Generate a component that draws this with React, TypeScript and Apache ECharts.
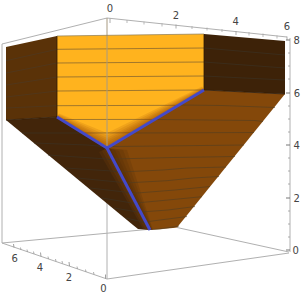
import React, { useEffect, useRef } from "react";
import * as echarts from "echarts";

type P = number[];

const orangeWall: P[] = [[57, 36], [204, 34], [204, 90], [107, 148], [57, 117]];
const leftWall: P[] = [[6, 47], [57, 36], [57, 117], [6, 120]];
const rightWall: P[] = [[204, 34], [285, 41], [285, 94], [204, 90]];
const rightFace: P[] = [[204, 90], [285, 94], [177, 227.5], [173, 228], [150, 230], [107, 148]];
const leftFace: P[] = [[6, 120], [57, 117], [107, 148], [150, 230], [138, 229], [133, 225]];

const orangeShade: P[][] = [
  [[57, 117], [59, 113.5], [107, 133], [202, 86.5], [204, 90], [107, 148]],
  [[57, 117], [58.6, 114.2], [107, 135.5], [202.4, 87.2], [204, 90], [107, 148]],
  [[57, 117], [58.2, 115], [107, 138], [202.8, 87.9], [204, 90], [107, 148]],
  [[57, 117], [57.8, 115.6], [107, 140], [203.2, 88.6], [204, 90], [107, 148]],
  [[57, 117], [57.5, 116.2], [107, 142], [203.5, 89.1], [204, 90], [107, 148]],
  [[57, 117], [57.3, 116.6], [107, 144], [203.8, 89.6], [204, 90], [107, 148]],
];
const rightShade: P[][] = [
  [[107, 148], [127, 150], [153, 230], [150, 230]],
  [[107, 148], [123, 150], [152.5, 230], [150, 230]],
  [[107, 148], [119, 151], [152, 230], [150, 230]],
  [[107, 148], [115, 150], [151.5, 230], [150, 230]],
  [[107, 148], [111, 149], [151, 230], [150, 230]],
];
const leftGlow: P[][] = [
  [[107, 148], [150, 230], [143, 229], [99, 152]],
  [[107, 148], [150, 230], [145, 229.3], [102, 151]],
  [[107, 148], [150, 230], [147.5, 229.6], [104.5, 150]],
];

const orangeContours: P[][] = [
  [[57, 49.3], [204, 48]], [[57, 63], [204, 62]], [[57, 77], [204, 76]], [[57, 91], [204, 90]],
  [[57, 105.7], [179, 105.3]], [[61, 119.5], [155, 119.4]], [[83, 133], [132, 132.8]],
];
const leftWallContours: P[][] = [
  [[6, 60.7], [57, 49.3]], [[6, 73], [57, 63]], [[6, 85], [57, 77]], [[6, 97], [57, 91]], [[6, 108], [57, 105.7]],
];
const rightWallContours: P[][] = [
  [[204, 48], [285, 55]], [[204, 62], [285, 68]], [[204, 76], [285, 80]],
];
const rightFaceContours: P[][] = [
  [[180, 105], [222, 105.5], [275, 107.5]],
  [[156, 119.5], [255, 120.5], [263, 121.5]],
  [[132, 133], [254, 132.5]],
  [[112, 146.5], [160, 146], [244, 145]],
  [[113, 159], [173, 157.5], [235, 156.5]],
  [[120, 172], [163, 170], [187, 168], [226, 167]],
  [[125, 183], [167, 180.7], [193, 178], [219, 176.5]],
  [[131, 193.5], [175, 190], [210, 186.5]],
  [[136, 203], [168, 200], [202, 196.7]],
  [[141, 212], [168, 210], [195, 206.5]],
  [[145, 222], [160, 220], [187, 216.5]],
  [[149, 229.5], [160, 229], [179, 226]],
];
const leftFaceContours: P[][] = [
  [[22, 133], [83, 133]],
  [[34, 143], [87, 145], [104, 146.5]],
  [[48, 155], [107, 159], [113, 160]],
  [[65, 168], [112, 171], [119, 172]],
  [[77, 178], [118, 182], [124, 183]],
  [[90, 188], [125, 192], [130, 193]],
  [[102, 198], [132, 203], [136, 203.5]],
  [[114, 208], [138, 212], [141, 212.5]],
  [[126, 218], [143, 222], [146, 222.5]],
];
const blueLines: P[][] = [
  [[57, 117], [107, 148], [204, 90]],
  [[107, 148], [150, 230]],
];
const edgeLines: P[][] = [
  [[57, 36], [57, 117]], [[204, 34], [204, 90]], [[6, 120], [57, 117]], [[204, 90], [285, 94]],
];
const topEdge: P[][] = [[[57, 36], [204, 34]]];

const frameLines: P[][] = [
  [[2, 44], [107, 18]],
  [[107, 18], [287, 37]],
  [[2, 44], [2, 243]],
  [[290, 38], [290, 252]],
  [[2, 243], [107, 279]],
  [[107, 279], [289, 253]],
  [[2, 243], [148, 229.4]],
  [[177, 227.5], [289, 252]],
  [[107, 202], [107, 279]],
];
const frontVertical: P[][] = [[[107, 18], [107, 147]]];

const topMajorTicks: P[][] = [
  [[110, 18.5], [110, 23]], [[176, 24.5], [176, 28.5]], [[236, 31], [236, 35]], [[287, 36.5], [287, 40]],
];
const topMinorTicks: P[][] = [
  [[127, 20], [127, 23]], [[144, 21.7], [144, 24.5]], [[162, 23.3], [162, 26.5]],
  [[192, 26], [192, 29]], [[207, 27.5], [207, 30.5]], [[222, 29], [222, 32]],
  [[249, 32], [249, 35.5]], [[263, 33.5], [263, 37]], [[277, 35.5], [277, 38.5]],
];
const zMajorTicks: P[][] = [
  [[286, 40], [290, 40]], [[286, 93], [290, 93]], [[286, 145], [290, 145]], [[286, 198], [290, 198]], [[286, 250], [290, 250]],
];
const zMinorTicks: P[][] = [
  [[288, 53], [290, 53]], [[288, 66], [290, 66]], [[288, 79], [290, 79]],
  [[288, 106], [290, 106]], [[288, 119], [290, 119]], [[288, 132], [290, 132]],
  [[288, 158], [290, 158]], [[288, 171], [290, 171]], [[288, 184], [290, 184]],
  [[288, 211], [290, 211]], [[288, 224], [290, 224]], [[288, 237], [290, 237]],
];
const leftMajorTicks: P[][] = [
  [[14, 247.5], [13.5, 244]], [[41, 256.5], [40.5, 252.5]], [[69.5, 266], [69, 262]], [[105.5, 278.5], [105.5, 274.5]],
];
const leftMinorTicks: P[][] = [
  [[21, 250], [20.5, 247.5]], [[27.5, 252], [27, 249.5]], [[34, 254], [33.5, 251.5]],
  [[48.5, 259], [48, 256.5]], [[56, 261.5], [55.5, 259]], [[62.5, 263.5], [62, 261]],
  [[77.5, 269], [77, 266.5]], [[86, 272], [85.5, 269.5]], [[94, 274.5], [93.5, 272]],
];

const tickLabels: { t: string; p: P }[] = [
  { t: "0", p: [110, 8.5] }, { t: "2", p: [176, 15] }, { t: "4", p: [235.7, 21.5] }, { t: "6", p: [287, 26] },
  { t: "8", p: [296.7, 40] }, { t: "6", p: [297, 93] }, { t: "4", p: [296.7, 145] }, { t: "2", p: [296.7, 198] }, { t: "0", p: [295.7, 250] },
  { t: "6", p: [14.7, 258.7] }, { t: "4", p: [40, 267] }, { t: "2", p: [69, 277] }, { t: "0", p: [103.5, 288] },
];

const custom = (make: (api: any) => any) => ({
  type: "custom",
  coordinateSystem: "cartesian2d",
  clip: false,
  silent: true,
  data: [[0, 0]],
  renderItem: (_: any, api: any) => make(api),
});

const poly = (pts: P[], fill: string, opacity = 1) =>
  custom((api) => ({
    type: "polygon",
    shape: { points: pts.map((p) => api.coord(p)) },
    style: { fill, opacity, stroke: null },
  }));

const lines = (ls: P[][], stroke: string, lineWidth = 1, opacity = 1) =>
  custom((api) => ({
    type: "group",
    children: ls.map((l) => ({
      type: "polyline",
      shape: { points: l.map((p) => api.coord(p)) },
      style: { stroke, lineWidth, opacity, fill: null },
    })),
  }));

const labels = () =>
  custom((api) => ({
    type: "group",
    children: tickLabels.map((l) => {
      const c = api.coord(l.p);
      return {
        type: "text",
        x: c[0],
        y: c[1],
        style: {
          text: l.t,
          fill: "#444",
          font: '10px "DejaVu Sans"',
          align: "center",
          verticalAlign: "middle",
        },
      };
    }),
  }));

export default function App() {
  const ref = useRef<HTMLDivElement>(null);
  useEffect(() => {
    const chart = echarts.init(ref.current!, undefined, { renderer: "svg" });
    chart.setOption({
      animation: false,
      backgroundColor: "#fff",
      grid: { left: 0, right: 0, top: 0, bottom: 0 },
      xAxis: { type: "value", min: 0, max: 301, show: false },
      yAxis: { type: "value", min: 0, max: 297, inverse: true, show: false },
      series: [
        lines(frameLines, "#b0b0b0", 1),
        lines(topMajorTicks, "#999999", 0.8),
        lines(topMinorTicks, "#aaaaaa", 0.8),
        lines(zMajorTicks, "#777777", 1),
        lines(zMinorTicks, "#999999", 0.8),
        lines(leftMajorTicks, "#888888", 0.8),
        lines(leftMinorTicks, "#999999", 0.8),
        poly(orangeWall, "#ffb31e"),
        lines(orangeContours, "#7d6030", 0.8, 0.9),
        ...orangeShade.map((s) => poly(s, "#8a3f00", 0.13)),
        lines(frontVertical, "#a89a80", 1),
        poly(rightFace, "#84480a"),
        ...rightShade.map((s) => poly(s, "#3a2005", 0.15)),
        lines(rightFaceContours, "#4f3c22", 0.7, 0.85),
        poly(leftFace, "#42250a"),
        ...leftGlow.map((s) => poly(s, "#84480a", 0.18)),
        lines(leftFaceContours, "#3a3226", 0.7, 0.85),
        poly(leftWall, "#5a3208"),
        lines(leftWallContours, "#4a3a26", 0.7, 0.85),
        poly(rightWall, "#3d2208"),
        lines(rightWallContours, "#3a3226", 0.7, 0.85),
        lines(edgeLines, "#2e1a06", 0.8),
        lines(topEdge, "#8a7a55", 0.7),
        lines(blueLines, "#4449c9", 3),
        labels(),
      ],
    });
    return () => chart.dispose();
  }, []);
  return <div ref={ref} style={{ position: "fixed", left: 0, top: 0, width: 301, height: 297 }} />;
}
